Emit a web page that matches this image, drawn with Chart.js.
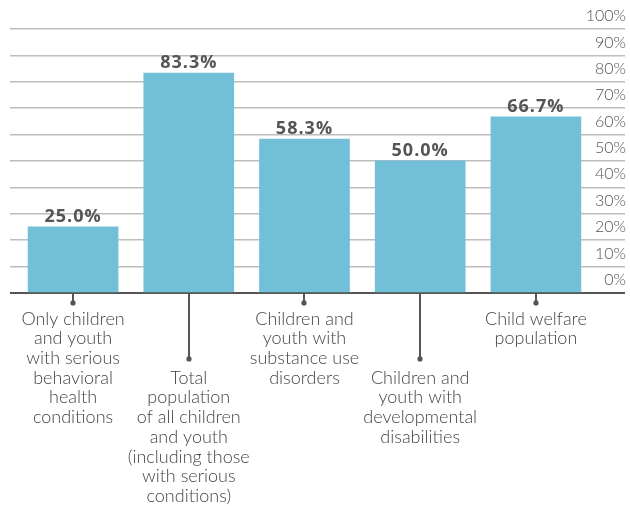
<!DOCTYPE html>
<html>
<head>
<meta charset="utf-8">
<script src="https://cdn.jsdelivr.net/npm/chart.js@4/dist/chart.umd.min.js"></script>
<style>
  html, body { margin: 0; padding: 0; background: #fff; }
  #wrap { width: 630px; height: 506px; position: relative; }
</style>
</head>
<body>
<div id="wrap"><canvas id="c" width="630" height="506"></canvas></div>
<script>
const categories = [
  ["Only children", "and youth", "with serious", "behavioral", "health", "conditions"],
  ["Total", "population", "of all children", "and youth", "(including those", "with serious", "conditions)"],
  ["Children and", "youth with", "substance use", "disorders"],
  ["Children and", "youth with", "developmental", "disabilities"],
  ["Child welfare", "population"]
];
const values = [25.0, 83.3, 58.3, 50.0, 66.7];
const valueLabels = ["25.0%", "83.3%", "58.3%", "50.0%", "66.7%"];
const labelDrop = [0, 3, 0, 3, 0]; // blank lines before label (long leader line)
const yTicks = [0, 10, 20, 30, 40, 50, 60, 70, 80, 90, 100];

const FONT = "Lato";
const BAR = "#72bfd8";

const leaderPlugin = {
  id: 'leaders',
  afterDraw(chart) {
    const ctx = chart.ctx;
    const xs = chart.scales.x;
    const base = chart.scales.y.getPixelForValue(0);
    ctx.save();
    ctx.strokeStyle = '#555';
    ctx.fillStyle = '#555';
    ctx.lineWidth = 2;
    categories.forEach((c, i) => {
      const x = Math.round(xs.getPixelForValue(i)) ;
      const end = base + (labelDrop[i] ? 66 : 10);
      ctx.beginPath();
      ctx.moveTo(x, base);
      ctx.lineTo(x, end);
      ctx.stroke();
      ctx.beginPath();
      ctx.arc(x, end, 2.6, 0, Math.PI * 2);
      ctx.fill();
    });
    ctx.restore();
  },
  afterDatasetsDraw(chart) {
    const ctx = chart.ctx;
    const meta = chart.getDatasetMeta(0);
    ctx.save();
    ctx.font = "bold 18px 'Open Sans'";
    ctx.fillStyle = '#555';
    ctx.textAlign = 'center';
    ctx.textBaseline = 'bottom';
    try { ctx.letterSpacing = '1px'; } catch (e) {}
    meta.data.forEach((bar, i) => {
      ctx.fillText(valueLabels[i], bar.x, bar.y - 1);
    });
    ctx.restore();
  }
};

new Chart(document.getElementById('c'), {
  type: 'bar',
  data: {
    datasets: [{
      data: values.map((v, i) => ({ x: i, y: v })),
      backgroundColor: BAR,
      barThickness: 90,
      borderWidth: 0
    }]
  },
  options: {
    responsive: false,
    animation: false,
    layout: { padding: { top: 29, left: 10, right: 3, bottom: 0 } },
    plugins: { legend: { display: false }, tooltip: { enabled: false } },
    scales: {
      x: {
        type: 'linear',
        offset: false,
        min: -0.545,
        max: 4.77,
        afterBuildTicks: s => { s.ticks = categories.map((c, i) => ({ value: i })); },
        afterFit: s => { s.height -= 16; },
        grid: { display: false, drawTicks: false, offset: false },
        border: { display: false },
        ticks: {
          padding: 16,
          autoSkip: false,
          maxRotation: 0,
          color: '#444',
          font: { family: FONT, size: 18, weight: 300, lineHeight: 1.095 },
          callback: (v) => {
            const i = Math.round(v);
            const lines = categories[i] || [];
            return Array(labelDrop[i] || 0).fill('').concat(lines);
          }
        }
      },
      y: {
        position: 'right',
        min: 0,
        max: 100,
        afterBuildTicks: s => { s.ticks = yTicks.map(v => ({ value: v })); },
        grid: {
          drawTicks: false,
          color: ctx => ctx.tick && ctx.tick.value === 0 ? '#555' : '#bdbdbd',
          lineWidth: ctx => ctx.tick && ctx.tick.value === 0 ? 2 : 1.5
        },
        border: { display: false },
        ticks: {
          mirror: true,
          padding: 1,
          labelOffset: -13,
          color: '#555',
          font: { family: FONT, size: 16, weight: 300 },
          callback: v => v + '%'
        }
      }
    }
  },
  plugins: [leaderPlugin]
});
</script>
</body>
</html>
